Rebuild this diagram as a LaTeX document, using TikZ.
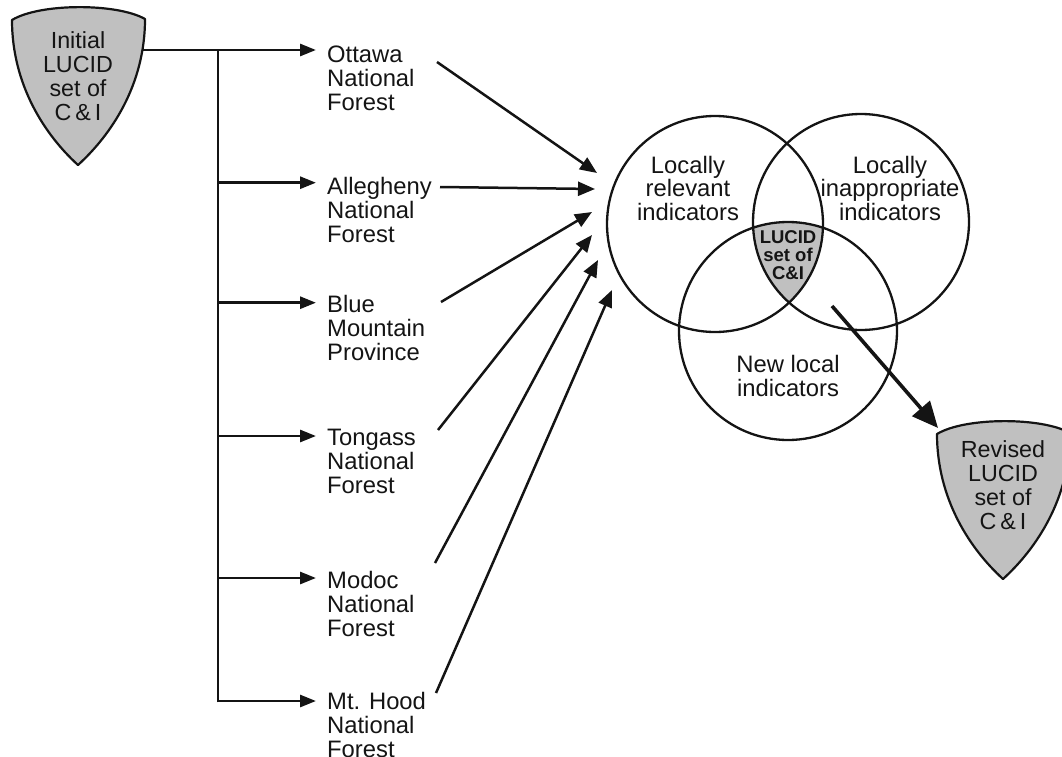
\documentclass[tikz,border=0pt]{standalone}
\usepackage{fontspec}
\setmainfont{Liberation Sans}
\usetikzlibrary{arrows.meta}
\definecolor{shieldgray}{RGB}{192,192,192}
\definecolor{inkc}{RGB}{20,20,20}
\begin{document}
\begin{tikzpicture}[x=1pt,y=-1pt,
  lbl/.style={font=\fontsize{23.8}{24}\selectfont, align=left, anchor=north west, inner sep=0pt, text=inkc},
  ctext/.style={font=\fontsize{23.8}{23.5}\selectfont, align=center, inner sep=0pt, text=inkc},
  stext/.style={font=\fontsize{23.3}{23.8}\selectfont, align=center, inner sep=0pt, text=inkc},
  btext/.style={font=\bfseries\fontsize{18.5}{18.3}\selectfont, align=center, inner sep=0pt, text=inkc},
  feed/.style={draw=inkc, line width=2.8pt, -{Triangle[length=16pt,width=12pt]}},
  conv/.style={draw=inkc, line width=2.5pt, -{Triangle[length=17pt,width=14pt]}},
  bigarrow/.style={draw=inkc, line width=3.6pt, -{Triangle[length=26pt,width=23pt]}},
  ring/.style={draw=inkc, line width=2.3pt},
  shieldshape/.style={fill=shieldgray, draw=inkc, line width=2.2pt, line join=round}]
\useasboundingbox (0,0) rectangle (1062,757);

% ---- shields ----
\path[shieldshape] (12,20) .. controls (40,3) and (117,3) .. (145,19)
  .. controls (145,85) and (111,135) .. (78,165)
  .. controls (45,135) and (12,85) .. (12,20) -- cycle;
\node[stext] (init) at (78,76) {Initial\\LUCID\\set of\\C\,\&\,I};
\begin{scope}[shift={(925,414)}]
\path[shieldshape] (12,20) .. controls (40,3) and (117,3) .. (145,19)
  .. controls (145,85) and (111,135) .. (78,165)
  .. controls (45,135) and (12,85) .. (12,20) -- cycle;
\node[stext] (revised) at (78,71) {Revised\\LUCID\\set of\\C\,\&\,I};
\end{scope}

% ---- bracket and feeding arrows ----
\coordinate (sR) at (143,50);
\coordinate (b1) at (218,50);
\coordinate (b2) at (218,182.7);
\coordinate (b3) at (218,302.7);
\coordinate (b4) at (218,436);
\coordinate (b5) at (218,578);
\coordinate (b6) at (218,701);
\coordinate (t1) at (316,50);
\coordinate (t2) at (316,182.7);
\coordinate (t3) at (316,302.7);
\coordinate (t4) at (316,436);
\coordinate (t5) at (316,578);
\coordinate (t6) at (316,701);
\draw[feed] (sR) -- (t1);
\draw[draw=inkc, line width=2.6pt] (b1) -- (b6);
\draw[feed] (b2) -- (t2);
\draw[feed] (b3) -- (t3);
\draw[feed] (b4) -- (t4);
\draw[feed] (b5) -- (t5);
\draw[feed, line join=miter] ([yshift=-1.3pt]b6) -- (b6) -- (t6);

% ---- forest labels ----
\node[lbl] (ottawa) at (327,45.7) {\rule{0pt}{17pt}Ottawa\\National\\Forest};
\node[lbl] (alleg) at (327,177) {\rule{0pt}{17pt}Allegheny\\National\\Forest};
\node[lbl] (blue) at (327,294.7) {\rule{0pt}{17pt}Blue\\Mountain\\Province};
\node[lbl] (tong) at (327,428) {\rule{0pt}{17pt}Tongass\\National\\Forest};
\node[lbl] (modoc) at (327,571) {\rule{0pt}{17pt}Modoc\\National\\Forest};
\node[lbl] (hood) at (327,692) {\rule{0pt}{17pt}Mt. Hood\\National\\Forest};

% ---- converging arrows ----
\coordinate (s1) at (437,62);   \coordinate (e1) at (597,173);
\coordinate (s2) at (440,187);  \coordinate (e2) at (595,189);
\coordinate (s3) at (441,302);  \coordinate (e3) at (592,212);
\coordinate (s4) at (438,430);  \coordinate (e4) at (592,235);
\coordinate (s5) at (435,563);  \coordinate (e5) at (598,260);
\coordinate (s6) at (436,693);  \coordinate (e6) at (612,290);
\draw[conv] (s1) -- (e1);
\draw[conv] (s2) -- (e2);
\draw[conv] (s3) -- (e3);
\draw[conv] (s4) -- (e4);
\draw[conv] (s5) -- (e5);
\draw[conv] (s6) -- (e6);

% ---- Venn diagram ----
\coordinate (cA) at (715,224);
\coordinate (cB) at (861,222);
\coordinate (cC) at (788,331);
\begin{scope}
\clip (cA) circle[radius=108];
\clip (cB) circle[radius=108];
\fill[shieldgray] (cC) circle[radius=109];
\end{scope}
\draw[ring] (cA) circle[radius=108];
\draw[ring] (cB) circle[radius=108];
\draw[ring] (cC) circle[radius=109];
\node[ctext] (relevant) at (688,188) {Locally\\relevant\\indicators};
\node[ctext] (inappr) at (890,188) {Locally\\inappropriate\\indicators};
\node[btext] (core) at (788,255) {LUCID\\set of\\C\&I};
\node[ctext] (newloc) at (788,376) {New local\\indicators};

% ---- output arrow ----
\coordinate (o1) at (832,306);
\coordinate (o2) at (938,428);
\draw[bigarrow] (o1) -- (o2);
\end{tikzpicture}
\end{document}
